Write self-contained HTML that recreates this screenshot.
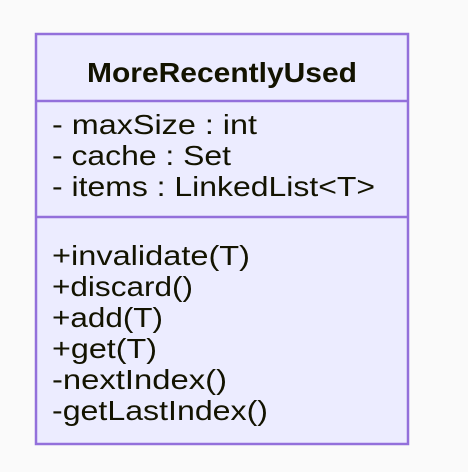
<!DOCTYPE html>
<html><head><style>html,body{margin:0;padding:0;background:#fafafa;}svg{display:block}</style></head>
<body>
<svg width="468" height="472" xmlns="http://www.w3.org/2000/svg" font-family="'Liberation Sans', sans-serif" font-size="28" fill="#131300">
<rect x="0" y="0" width="468" height="472" fill="#fafafa"/>
<rect x="36" y="34" width="372" height="410" fill="#ECECFF" stroke="#9370DB" stroke-width="2.5"/>
<line x1="36" y1="101" x2="408" y2="101" stroke="#9370DB" stroke-width="2.5"/>
<line x1="36" y1="217" x2="408" y2="217" stroke="#9370DB" stroke-width="2.5"/>
<text x="87" y="82" font-weight="bold" textLength="270" lengthAdjust="spacingAndGlyphs">MoreRecentlyUsed</text>
<text x="52" y="134" textLength="205" lengthAdjust="spacingAndGlyphs">- maxSize : int</text>
<text x="52" y="165" textLength="179" lengthAdjust="spacingAndGlyphs">- cache : Set</text>
<text x="52" y="196" textLength="323" lengthAdjust="spacingAndGlyphs">- items : LinkedList&lt;T&gt;</text>
<text x="52" y="265" textLength="198" lengthAdjust="spacingAndGlyphs">+invalidate(T)</text>
<text x="52" y="296" textLength="141" lengthAdjust="spacingAndGlyphs">+discard()</text>
<text x="52" y="327" textLength="111" lengthAdjust="spacingAndGlyphs">+add(T)</text>
<text x="52" y="358" textLength="105" lengthAdjust="spacingAndGlyphs">+get(T)</text>
<text x="52" y="389" textLength="175" lengthAdjust="spacingAndGlyphs">-nextIndex()</text>
<text x="52" y="420" textLength="216" lengthAdjust="spacingAndGlyphs">-getLastIndex()</text>
</svg>
</body></html>
